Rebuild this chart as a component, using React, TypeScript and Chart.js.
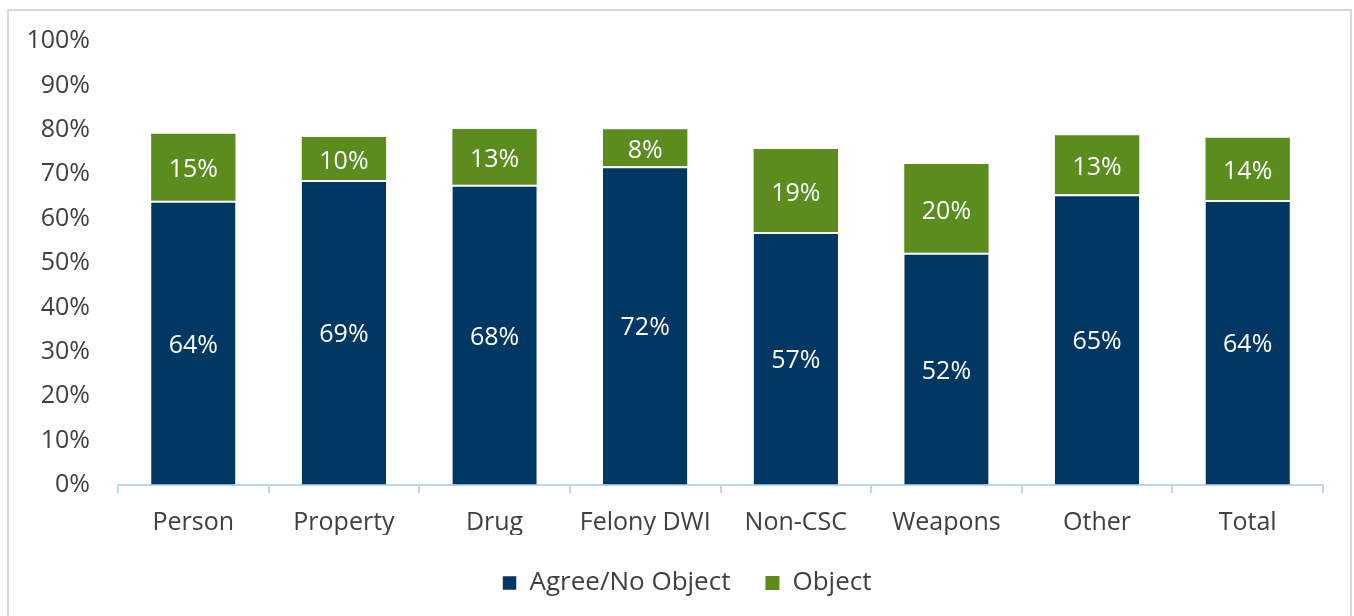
import React, { useEffect, useRef } from "react";
import { Chart, registerables } from "chart.js";

Chart.register(...registerables);

const categories = ["Person", "Property", "Drug", "Felony DWI", "Non-CSC", "Weapons", "Other", "Total"];
const agreeValues = [64.0, 68.7, 67.6, 71.8, 57.0, 52.3, 65.5, 64.2];
const objectValues = [15.1, 9.7, 12.6, 8.3, 18.7, 20.0, 13.3, 14.0];
const agreeLabels = ["64%", "69%", "68%", "72%", "57%", "52%", "65%", "64%"];
const objectLabels = ["15%", "10%", "13%", "8%", "19%", "20%", "13%", "14%"];
const seriesNames = ["Agree/No Object", "Object"];

const FONT = "'Open Sans', sans-serif";
const TEXT = "#404040";
const BLUE = "#003763";
const GREEN = "#5B8C1D";
const AXIS = "#BDD7EE";
const FS = 25;

const barLabelPlugin = {
  id: "barLabels",
  afterLayout(chart: any) {
    if (chart.legend) {
      chart.legend.left += 21;
      chart.legend.right += 21;
    }
  },
  afterDatasetsDraw(chart: any) {
    const ctx = chart.ctx;
    const labelSets = [agreeLabels, objectLabels];
    ctx.save();
    ctx.font = `${FS}px ${FONT}`;
    ctx.fillStyle = "#ffffff";
    ctx.textAlign = "center";
    ctx.textBaseline = "middle";
    chart.data.datasets.forEach((_ds: any, di: number) => {
      const meta = chart.getDatasetMeta(di);
      meta.data.forEach((el: any, i: number) => {
        const y = (el.y + el.base) / 2 + 3;
        ctx.fillText(labelSets[di][i], el.x, y);
      });
    });
    ctx.restore();
  },
};

export default function App() {
  const ref = useRef<HTMLCanvasElement | null>(null);

  useEffect(() => {
    if (!ref.current) return;
    const chart = new Chart(ref.current, {
      type: "bar",
      data: {
        labels: categories,
        datasets: [
          {
            label: seriesNames[0],
            data: agreeValues,
            backgroundColor: BLUE,
            borderColor: "#ffffff",
            borderWidth: { top: 2, left: 0, right: 0, bottom: 0 },
            borderSkipped: "start",
            barPercentage: 0.56,
            categoryPercentage: 1,
          },
          {
            label: seriesNames[1],
            data: objectValues,
            backgroundColor: GREEN,
            borderWidth: 0,
            barPercentage: 0.56,
            categoryPercentage: 1,
          },
        ],
      },
      options: {
        animation: false,
        responsive: false,
        maintainAspectRatio: false,
        layout: { padding: { top: 30, right: 27, bottom: 10, left: 0 } },
        plugins: {
          tooltip: { enabled: false },
          legend: {
            position: "bottom",
            labels: {
              boxWidth: 14,
              boxHeight: 14,
              padding: 35,
              color: TEXT,
              font: { family: FONT, size: 26 },
            },
          },
        },
        scales: {
          x: {
            stacked: true,
            grid: {
              display: true,
              offset: true,
              drawOnChartArea: false,
              drawTicks: true,
              tickLength: 8,
              color: AXIS,
              lineWidth: 2,
            },
            border: { display: true, color: AXIS, width: 2 },
            ticks: {
              color: TEXT,
              padding: 15,
              maxRotation: 0,
              autoSkip: false,
              font: { family: FONT, size: FS },
            },
            afterFit(scale: any) {
              scale.height = 50;
            },
          },
          y: {
            stacked: true,
            min: 0,
            max: 100,
            grid: {
              display: true,
              drawOnChartArea: false,
              drawTicks: true,
              tickLength: 28,
              color: "rgba(0,0,0,0)",
            },
            border: { display: false },
            ticks: {
              stepSize: 10,
              padding: 0,
              color: TEXT,
              font: { family: FONT, size: FS },
              callback: (v: any) => `${v}%`,
            },
            afterFit(scale: any) {
              scale.width = 109;
            },
          },
        },
      },
      plugins: [barLabelPlugin],
    });
    return () => chart.destroy();
  }, []);

  return (
    <div
      style={{
        position: "fixed",
        left: 0,
        top: 0,
        width: 1354,
        height: 616,
        overflow: "hidden",
        background: "#ffffff",
      }}
    >
      <div
        style={{
          position: "absolute",
          left: 7,
          top: 9,
          width: 1341,
          height: 640,
          border: "2px solid #D9D9D9",
          boxSizing: "content-box",
        }}
      >
        <canvas ref={ref} width={1341} height={605} style={{ display: "block" }} />
      </div>
    </div>
  );
}
